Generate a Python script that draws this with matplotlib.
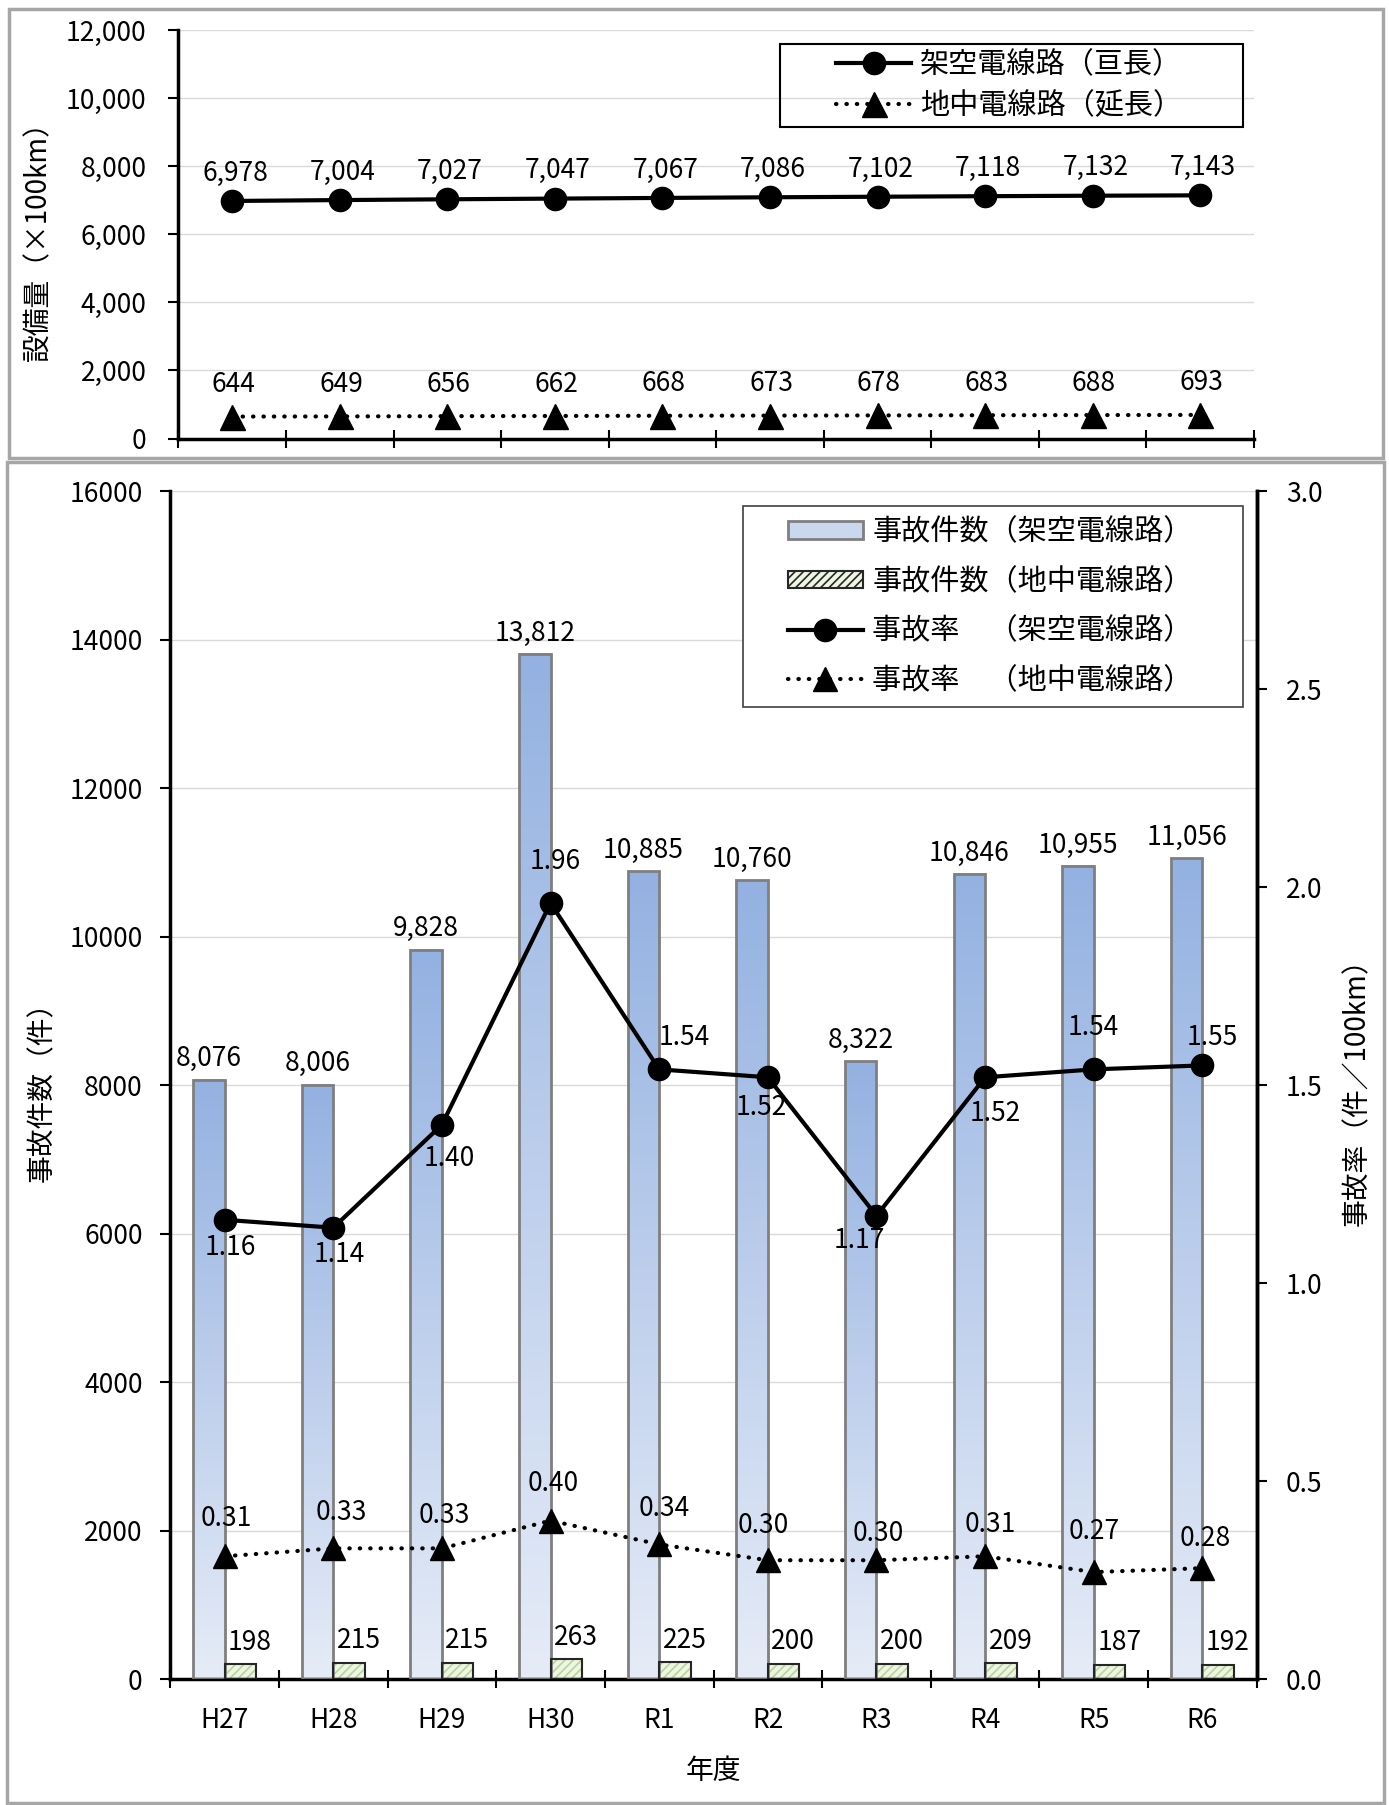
import numpy as np
import matplotlib
matplotlib.use("Agg")
import matplotlib.pyplot as plt
from matplotlib.colors import LinearSegmentedColormap
from matplotlib.patches import Rectangle
from matplotlib.ticker import FuncFormatter

plt.rcParams.update({
    "font.family": ["Noto Sans CJK JP", "DejaVu Sans"],
    "font.size": 19,
    "hatch.linewidth": 1.2,
})

# ---------- data ----------
years = ["H27", "H28", "H29", "H30", "R1", "R2", "R3", "R4", "R5", "R6"]
overhead_len = [6978, 7004, 7027, 7047, 7067, 7086, 7102, 7118, 7132, 7143]
underground_len = [644, 649, 656, 662, 668, 673, 678, 683, 688, 693]
overhead_acc = [8076, 8006, 9828, 13812, 10885, 10760, 8322, 10846, 10955, 11056]
underground_acc = [198, 215, 215, 263, 225, 200, 200, 209, 187, 192]
overhead_rate = [1.16, 1.14, 1.40, 1.96, 1.54, 1.52, 1.17, 1.52, 1.54, 1.55]
underground_rate = [0.31, 0.33, 0.33, 0.40, 0.34, 0.30, 0.30, 0.31, 0.27, 0.28]

# label offsets (points) for the rate labels
oh_rate_off = [(4, -20), (4, -19), (5, -24), (3, 30), (18, 23), (-5, -22),
               (-12, -18), (7, -26), (0, 30), (7, 20)]
ug_rate_off = [(1, 27), (6, 26), (2, 24), (2, 27), (4, 26), (-3, 25),
               (1, 19), (4, 23), (0, 29), (2, 21)]

W, H = 1389, 1805
fig = plt.figure(figsize=(W / 100, H / 100), dpi=100)


def fig_box(x0, y0, x1, y1, color, lw):
    """Rectangle given in pixel coordinates from the top-left corner."""
    fig.add_artist(Rectangle((x0 / W, 1 - y1 / H), (x1 - x0) / W, (y1 - y0) / H,
                             transform=fig.transFigure, fill=False,
                             edgecolor=color, lw=lw, zorder=10))


# panel frames
fig_box(9, 9, 1383, 458, "#A6A6A6", 2.5)
fig_box(7, 462, 1384, 1803, "#A6A6A6", 2.5)

x = np.arange(len(years))
LW = 3.0
DOT = (0, (0.1, 2.4))
BLACK = "#000000"
FS = 19

# ===== top: installed length =====
axT = fig.add_axes([178.4 / W, 1 - 438.5 / H, (1254 - 178.4) / W, (438.5 - 30) / H])
axT.plot(x, overhead_len, "-o", color=BLACK, lw=LW, ms=16, label="架空電線路（亘長）",
         zorder=3)
axT.plot(x, underground_len, color=BLACK, lw=LW, ls=DOT, dash_capstyle="round",
         marker="^", ms=18, label="地中電線路（延長）", zorder=3)
for i in range(len(years)):
    axT.annotate(f"{overhead_len[i]:,}", (x[i], overhead_len[i]), xytext=(2, 20),
                 textcoords="offset points", ha="center", va="center", fontsize=FS)
    axT.annotate(f"{underground_len[i]:,}", (x[i], underground_len[i]), xytext=(1, 23),
                 textcoords="offset points", ha="center", va="center", fontsize=FS)
axT.set_xlim(-0.5, len(years) - 0.5)
axT.set_ylim(0, 12000)
axT.set_yticks(np.arange(0, 12001, 2000))
axT.yaxis.set_major_formatter(FuncFormatter(lambda v, p: f"{int(v):,}"))
axT.set_xticks(np.arange(-0.5, len(years), 1.0))
axT.set_xticklabels([])
axT.tick_params(axis="x", direction="inout", length=13, width=1.5)
axT.tick_params(axis="y", direction="out", length=7, width=1.5, labelsize=FS, pad=16)
axT.grid(axis="y", color="#D9D9D9", lw=1)
axT.set_axisbelow(True)
for s in ("top", "right"):
    axT.spines[s].set_visible(False)
for s in ("left", "bottom"):
    axT.spines[s].set_linewidth(2.5)
axT.set_ylabel("設備量（×100km）", fontsize=20, labelpad=9)

fig_box(780, 44, 1243, 127, BLACK, 1.5)
axT.legend(loc="center", bbox_to_anchor=(1009 / W, 1 - 85.5 / H),
           bbox_transform=fig.transFigure, fontsize=21, frameon=False,
           numpoints=1, handlelength=2.6, labelspacing=0.38, borderpad=0,
           handletextpad=0.3, borderaxespad=0)

# ===== bottom: accidents and accident rate =====
axB = fig.add_axes([170.3 / W, 1 - 1679 / H, (1256.7 - 170.3) / W, (1679 - 491.4) / H])
bw = 0.29
grad = np.linspace(0, 1, 256).reshape(-1, 1)
blues = LinearSegmentedColormap.from_list("blues", ["#E6ECF7", "#93B1E1"])
for xi, h in zip(x - bw / 2, overhead_acc):
    axB.imshow(grad, extent=(xi - bw / 2, xi + bw / 2, 0, h), origin="lower",
               cmap=blues, aspect="auto", zorder=2)
axB.bar(x - bw / 2, overhead_acc, width=bw, fill=False, edgecolor="#7F7F7F",
        lw=2, zorder=3)
axB.bar(x + bw / 2, underground_acc, width=bw, color="#EEF5E3", edgecolor="#B7D49A",
        hatch="////", lw=0, zorder=2)
axB.bar(x + bw / 2, underground_acc, width=bw, fill=False, edgecolor="#262626",
        lw=1.5, zorder=3)
for i in range(len(years)):
    axB.annotate(f"{overhead_acc[i]:,}", (x[i] - bw / 2, overhead_acc[i]), xytext=(0, 15),
                 textcoords="offset points", ha="center", va="center", fontsize=FS)
    axB.annotate(f"{underground_acc[i]:,}", (x[i] + bw / 2, underground_acc[i]),
                 xytext=(7, 16), textcoords="offset points", ha="center", va="center",
                 fontsize=FS)
axB.set_xlim(-0.5, len(years) - 0.5)
axB.set_ylim(0, 16000)
axB.set_yticks(np.arange(0, 16001, 2000))
axB.set_xticks(np.arange(-0.5, len(years), 1.0))
axB.set_xticklabels([])
axB.set_xticks(x, minor=True)
axB.set_xticklabels(years, minor=True, fontsize=FS)
axB.tick_params(axis="x", which="major", direction="inout", length=13, width=1.5)
axB.tick_params(axis="x", which="minor", length=0, pad=20)
axB.tick_params(axis="y", direction="out", length=7, width=1.5, labelsize=FS, pad=13)
axB.grid(axis="y", color="#D9D9D9", lw=1)
axB.set_axisbelow(True)
axB.spines["top"].set_visible(False)
for s in ("left", "bottom", "right"):
    axB.spines[s].set_linewidth(2.5)
axB.set_ylabel("事故件数（件）", fontsize=20, labelpad=9)
axB.set_xlabel("年度", fontsize=20, labelpad=16)

axR = axB.twinx()
oh_line, = axR.plot(x, overhead_rate, "-o", color=BLACK, lw=LW, ms=16, zorder=4)
ug_line, = axR.plot(x, underground_rate, color=BLACK, lw=LW, ls=DOT,
                    dash_capstyle="round", marker="^", ms=17, zorder=4)
for i in range(len(years)):
    axR.annotate(f"{overhead_rate[i]:.2f}", (x[i], overhead_rate[i]),
                 xytext=oh_rate_off[i], textcoords="offset points",
                 ha="center", va="center", fontsize=FS)
    axR.annotate(f"{underground_rate[i]:.2f}", (x[i], underground_rate[i]),
                 xytext=ug_rate_off[i], textcoords="offset points",
                 ha="center", va="center", fontsize=FS)
axR.set_ylim(0, 3.0)
axR.set_yticks(np.arange(0, 3.01, 0.5))
axR.yaxis.set_major_formatter(FuncFormatter(lambda v, p: f"{v:.1f}"))
axR.tick_params(axis="y", direction="out", length=7, width=1.5, labelsize=FS, pad=14)
axR.spines["top"].set_visible(False)
axR.spines["right"].set_linewidth(2.5)
axR.set_ylabel("事故率（件／100km）", fontsize=20, labelpad=14)

# legend: proxy handles for the bars, inside a separately drawn white box
fig.add_artist(Rectangle((743 / W, 1 - 707 / H), 500 / W, 201 / H,
                         transform=fig.transFigure, facecolor="white",
                         edgecolor="#404040", lw=1.2, zorder=9))
bar_oh = Rectangle((0, 0), 1, 1, facecolor="#C9D7EF", edgecolor="#7F7F7F", lw=2)
bar_ug = Rectangle((0, 0), 1, 1, facecolor="#EEF5E3", edgecolor="#262626",
                   hatch="////", lw=1.5)
leg = axR.legend([bar_oh, bar_ug, oh_line, ug_line],
                 ["事故件数（架空電線路）", "事故件数（地中電線路）",
                  "事故率　（架空電線路）", "事故率　（地中電線路）"],
                 loc="center", bbox_to_anchor=(990 / W, 1 - 606.5 / H),
                 bbox_transform=fig.transFigure, fontsize=21, frameon=False,
                 numpoints=1, handlelength=2.6, handleheight=0.55,
                 labelspacing=0.67, borderpad=0, handletextpad=0.3, borderaxespad=0)
leg.set_zorder(11)
leg.remove()
fig.add_artist(leg)

fig.savefig("out.png", dpi=100)
